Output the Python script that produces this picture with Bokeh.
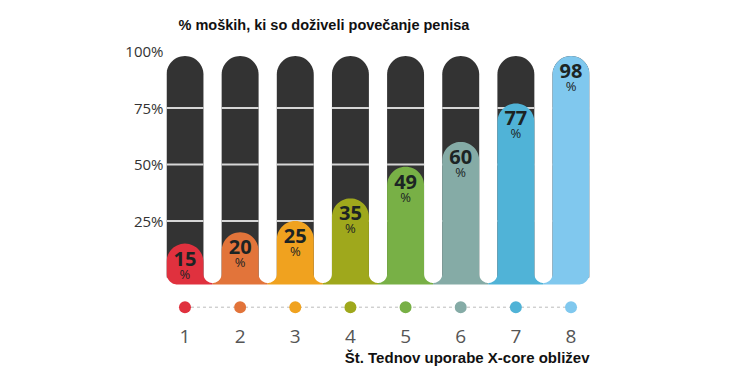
import math
from bokeh.plotting import figure
from bokeh.models import Range1d, FixedTicker, Title
from bokeh.embed import file_html
from bokeh.resources import INLINE
from bokeh.core.properties import value as V

# ---- data ----
weeks = [1, 2, 3, 4, 5, 6, 7, 8]
week_labels = ["1", "2", "3", "4", "5", "6", "7", "8"]
percent = [15, 20, 25, 35, 49, 60, 77, 98]
colors = ["#e0313e", "#e2743a", "#f0a21f", "#9fa81c", "#78b046",
          "#85aba6", "#50b3d7", "#80c8ee"]
y_ticks = [25, 50, 75, 100]
y_tick_labels = ["25%", "50%", "75%", "100%"]
title_text = "% moških, ki so doživeli povečanje penisa"
x_title_text = "Št. Tednov uporabe X-core obližev"

# ---- layout ----
W, H = 720, 377
ML, MR, MT, MB = 166, 131, 45, 61
FW = W - ML - MR
FH = H - MT - MB
BAR_W = 0.67
X0, X1 = weeks[0] - BAR_W / 2, weeks[-1] + BAR_W / 2
Y0, Y1 = -17.26, 102.65
PX_X = FW / (X1 - X0)
PX_Y = FH / (Y1 - Y0)

TRACK_TOP = max(percent)          # the full dark track
CAP_R = BAR_W * PX_X / 2          # px
CAP_Y = CAP_R / PX_Y              # data units
BAND_BOTTOM = -3.1
GAP_R = (1 - BAR_W) * PX_X / 2    # px
GAP_CENTER = BAND_BOTTOM + (1.5 + GAP_R) / PX_Y
CORNER_R = 11.0
DOT_Y = -13.14
DARK = "#333333"


def arc(cx, cy, r_px, a0, a1, n=28):
    xs, ys = [], []
    for j in range(n + 1):
        a = a0 + (a1 - a0) * j / n
        xs.append(cx + r_px / PX_X * math.cos(a))
        ys.append(cy + r_px / PX_Y * math.sin(a))
    return xs, ys


def add(xs, ys, pts):
    xs.extend(pts[0])
    ys.extend(pts[1])


p = figure(width=W, height=H, x_range=Range1d(X0, X1), y_range=Range1d(Y0, Y1),
           output_backend="svg", toolbar_location=None,
           min_border_left=ML, min_border_right=MR, min_border_top=MT,
           min_border_bottom=MB, outline_line_color=None,
           background_fill_color="white", border_fill_color="white")
p.xgrid.visible = False
p.ygrid.visible = False

# title
p.title.text = title_text
p.title.align = "left"
p.title.offset = 12
p.title.text_font = "Liberation Sans"
p.title.text_font_size = "14.5px"
p.title.text_font_style = "bold"
p.title.text_color = "#111111"
p.title.standoff = 26

# axes
xa = p.xaxis[0]
xa.ticker = FixedTicker(ticks=weeks)
xa.major_label_overrides = {w: l for w, l in zip(weeks, week_labels)}
xa.axis_line_color = None
xa.major_tick_line_color = None
xa.minor_tick_line_color = None
xa.major_tick_out = 0
xa.minor_tick_out = 0
xa.major_label_text_font = "Open Sans"
xa.major_label_text_font_size = "19px"
xa.major_label_text_color = "#555555"
xa.major_label_standoff = 13

ya = p.yaxis[0]
ya.ticker = FixedTicker(ticks=y_ticks)
ya.major_label_overrides = {t: l for t, l in zip(y_ticks, y_tick_labels)}
ya.axis_line_color = None
ya.major_tick_line_color = None
ya.minor_tick_line_color = None
ya.major_tick_out = 0
ya.minor_tick_out = 0
ya.major_label_text_font = "Open Sans"
ya.major_label_text_font_size = "15px"
ya.major_label_text_color = "#333333"
ya.major_label_standoff = 3

p.add_layout(Title(text=x_title_text, align="right", text_font="Liberation Sans",
                   text_font_size="15px", text_font_style="bold",
                   text_color="#111111", standoff=2), "below")

# dark background tracks
track_xs, track_ys = [], []
for w in weeks:
    xs, ys = [], []
    add(xs, ys, arc(w, TRACK_TOP - CAP_Y, CAP_R, 0, math.pi))
    xs += [w - BAR_W / 2, w + BAR_W / 2]
    ys += [0, 0]
    track_xs.append(xs)
    track_ys.append(ys)
p.patches(track_xs, track_ys, fill_color=DARK, line_color=None)

# grid segments across the tracks
lefts = [w - BAR_W / 2 for w in weeks]
rights = [w + BAR_W / 2 for w in weeks]
for t in y_ticks[:-1]:
    p.segment(x0=lefts, y0=[t] * len(weeks), x1=rights, y1=[t] * len(weeks),
              line_color="#d6d6d6", line_width=2)

# coloured fills (rounded top, joined base with rounded gaps)
cx_c = CORNER_R / PX_X
cy_c = CORNER_R / PX_Y
fill_xs, fill_ys = [], []
last = len(weeks) - 1
for k, (w, v) in enumerate(zip(weeks, percent)):
    xs, ys = [], []
    left_x, right_x = w - BAR_W / 2, w + BAR_W / 2
    add(xs, ys, arc(w, v - CAP_Y, CAP_R, 0, math.pi))
    if k == 0:
        add(xs, ys, arc(left_x + cx_c, BAND_BOTTOM + cy_c, CORNER_R, math.pi, 1.5 * math.pi))
    else:
        add(xs, ys, arc(w - 0.5, GAP_CENTER, GAP_R, 0, -0.5 * math.pi))
        xs.append(w - 0.5)
        ys.append(BAND_BOTTOM)
    if k == last:
        add(xs, ys, arc(right_x - cx_c, BAND_BOTTOM + cy_c, CORNER_R, 1.5 * math.pi, 2 * math.pi))
    else:
        xs.append(w + 0.5)
        ys.append(BAND_BOTTOM)
        add(xs, ys, arc(w + 0.5, GAP_CENTER, GAP_R, 1.5 * math.pi, math.pi))
    fill_xs.append(xs)
    fill_ys.append(ys)
p.patches(fill_xs, fill_ys, fill_color=colors, line_color=None)

# value labels
p.text(x=weeks, y=percent, text=[str(v) for v in percent], text_align="center",
       text_baseline="alphabetic", y_offset=15, text_font=V("Open Sans"),
       text_font_style="bold", text_font_size="20px", text_color="#1c2424")
p.text(x=weeks, y=percent, text=["%"] * len(weeks), text_align="center",
       text_baseline="alphabetic", y_offset=30, text_font=V("Open Sans"),
       text_font_size="13px", text_color="#1c2424")

# dots row
p.line(x=weeks, y=[DOT_Y] * len(weeks), line_color="#bbbbbb", line_width=1,
       line_dash="3 3")
p.scatter(x=weeks, y=[DOT_Y] * len(weeks), size=12, fill_color=colors, line_color=None)

open("out.html", "w").write(file_html(p, INLINE))
